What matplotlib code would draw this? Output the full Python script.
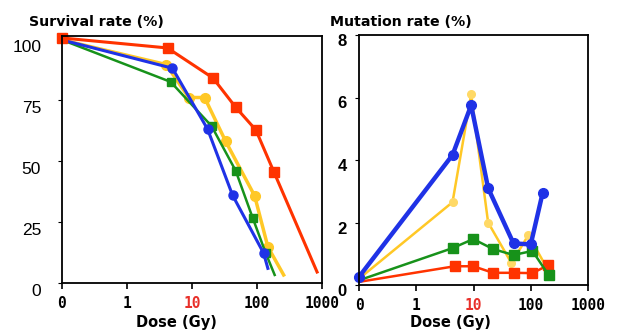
import matplotlib
matplotlib.use("Agg")
import matplotlib.pyplot as plt
import matplotlib.transforms as mtransforms
import numpy as np

plt.rcParams['font.family'] = ['Liberation Sans', 'DejaVu Sans']

# dose axis: "0" is drawn at the 0.1 position of a log axis
dose_ticks = [0.1, 1, 10, 100, 1000]
dose_labels = ["0", "1", "10", "100", "1000"]

# survival rate (%)
surv_red_d = [0.1, 4.2, 21, 47, 96, 182, 840]
surv_red = [100.4, 96.3, 84, 72, 62.7, 45.5, 4.5]
surv_blue_d = [0.1, 5.0, 17.4, 42, 126, 147]
surv_blue = [99.6, 88, 63, 36, 12.3, 6]
surv_yellow_d = [0.1, 4.0, 8.9, 15.6, 33, 92, 147, 257]
surv_yellow = [99.6, 89.5, 76, 76, 58, 35.7, 14.8, 3.3]
surv_green_d = [0.1, 4.7, 20, 47, 86, 136, 187]
surv_green = [99.6, 82.4, 64.3, 46, 26.6, 12.3, 3.3]

# mutation rate (%)
mut_blue_d = [0.1, 4.3, 9.1, 18, 50, 100, 161]
mut_blue = [0.26, 4.16, 5.75, 3.1, 1.33, 1.3, 2.94]
mut_yellow_d = [0.1, 4.3, 9.1, 18, 46, 91, 200]
mut_yellow = [0.2, 2.65, 6.1, 2.0, 0.7, 1.6, 0.48]
mut_green_d = [0.1, 4.3, 9.9, 22, 50, 107, 205]
mut_green = [0.15, 1.18, 1.47, 1.15, 0.96, 1.09, 0.32]
mut_red_d = [0.1, 4.7, 9.9, 22, 50, 107, 200]
mut_red = [0.1, 0.6, 0.6, 0.39, 0.39, 0.38, 0.63]

RED = "#ff3300"
BLUE = "#1f32e6"
GREEN = "#17921a"
YELLOW = "#ffc826"
YELLOW_M = "#ffd966"

fig = plt.figure(figsize=(6.24, 3.32), dpi=100)
ax1 = fig.add_axes([62/624, 49/332, 260/624, 247/332])
ax2 = fig.add_axes([359/624, 47/332, 229/624, 250/332])

def inner(n, last=True):
    return list(range(1, n - 1 if last else n))

# left panel
ax1.plot(surv_yellow_d, surv_yellow, color=YELLOW, lw=2.5, marker="o", ms=7,
         mfc=YELLOW, mec=YELLOW, markevery=inner(len(surv_yellow_d)), clip_on=False)
ax1.plot(surv_green_d, surv_green, color=GREEN, lw=1.8, marker="s", ms=6,
         markevery=inner(len(surv_green_d)), clip_on=False)
ax1.plot(surv_blue_d, surv_blue, color=BLUE, lw=2.2, marker="o", ms=6.5,
         markevery=inner(len(surv_blue_d)), clip_on=False)
ax1.plot(surv_red_d, surv_red, color=RED, lw=2.2, marker="s", ms=7,
         markevery=list(range(len(surv_red_d) - 1)), clip_on=False)
ax1.set_ylim(0, 101.2)
ax1.set_yticks([0, 25, 50, 75, 100])
ax1.tick_params(axis="y", labelsize=12.5, pad=12, length=3)

# right panel
ax2.plot(mut_yellow_d, mut_yellow, color=YELLOW, lw=1.8, marker="o", ms=5.5,
         mfc=YELLOW_M, mec=YELLOW_M, markevery=inner(len(mut_yellow_d), False))
ax2.plot(mut_red_d, mut_red, color=RED, lw=1.8, marker="s", ms=6.5,
         markevery=inner(len(mut_red_d), False))
ax2.plot(mut_green_d, mut_green, color=GREEN, lw=1.8, marker="s", ms=6.5,
         markevery=inner(len(mut_green_d), False))
ax2.plot(mut_blue_d, mut_blue, color=BLUE, lw=3.2, marker="o", ms=7, clip_on=False)
ax2.set_ylim(0, 8)
ax2.set_yticks([0, 2, 4, 6, 8])
ax2.tick_params(axis="y", labelsize=12, pad=6, length=3)
for lab in ax2.get_yticklabels():
    lab.set_fontweight("bold")

# y labels sit a little below their ticks in the original
for ax, dy in ((ax1, -7), (ax2, -5)):
    off = mtransforms.ScaledTranslation(0, dy / 100, fig.dpi_scale_trans)
    for lab in ax.get_yticklabels():
        lab.set_transform(lab.get_transform() + off)

for ax in (ax1, ax2):
    ax.set_xscale("log")
    ax.set_xlim(0.1, 1000)
    ax.set_xticks(dose_ticks)
    ax.set_xticklabels(dose_labels, family="DejaVu Sans Mono", fontweight="bold", fontsize=10.5)
    ax.minorticks_off()
    ax.tick_params(axis="x", length=4, width=1.2, pad=5)
    for s in ax.spines.values():
        s.set_linewidth(1.3)
    ax.get_xticklabels()[2].set_color("#e8302a")

fig.text(29/624, 1 - 22/332, "Survival rate (%)", family="DejaVu Sans", fontsize=10.2,
         fontweight="bold", va="center")
fig.text(330/624, 1 - 22/332, "Mutation rate (%)", family="DejaVu Sans", fontsize=10.2,
         fontweight="bold", va="center")
fig.text(176/624, 1 - 322/332, "Dose (Gy)", family="DejaVu Sans", fontsize=10.5,
         fontweight="bold", ha="center", va="center")
fig.text(450/624, 1 - 322/332, "Dose (Gy)", family="DejaVu Sans", fontsize=10.5,
         fontweight="bold", ha="center", va="center")

fig.savefig("out.png", dpi=100)
